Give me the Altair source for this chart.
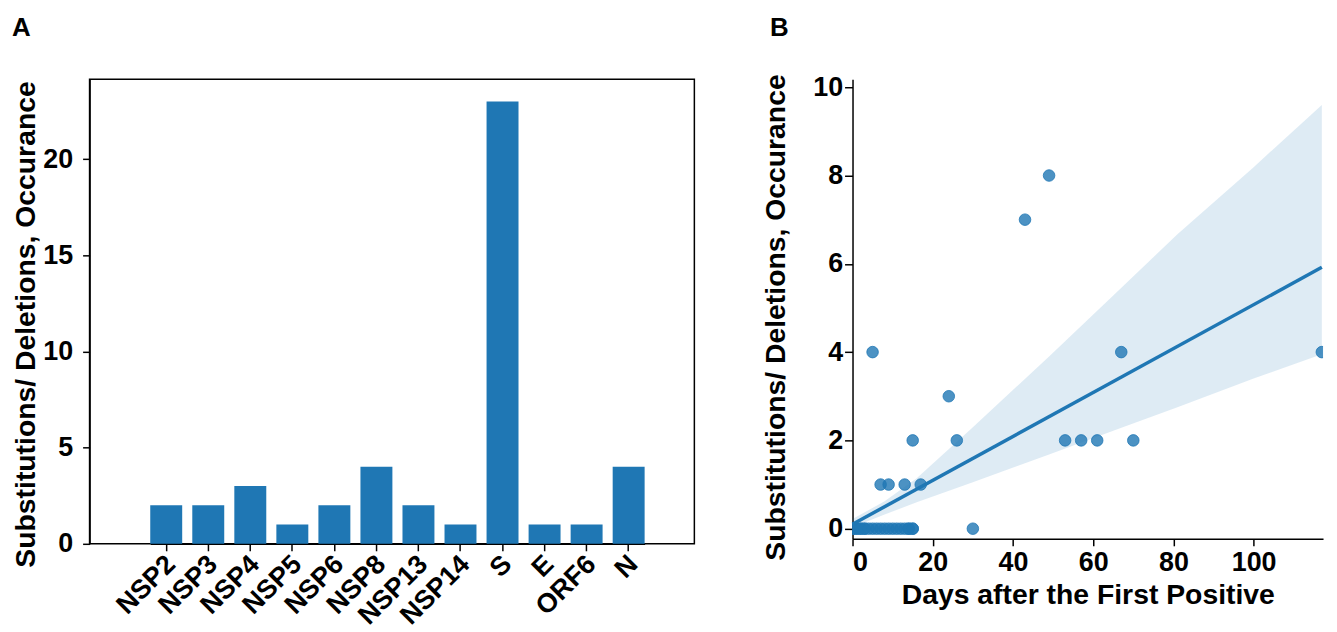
import altair as alt
import pandas as pd

# ---------------- Panel A data ----------------
genes = ["NSP2", "NSP3", "NSP4", "NSP5", "NSP6", "NSP8", "NSP13", "NSP14", "S", "E", "ORF6", "N"]
counts = [2, 2, 3, 1, 2, 4, 2, 1, 23, 1, 1, 4]

# ---------------- Panel B data ----------------
days = [0, 0, 0, 1, 1, 2, 2, 3, 3, 4, 5, 6, 7, 8, 9, 10, 11, 12, 13, 14, 14, 15, 15, 30,
        7, 9, 13, 17,
        15, 26, 53, 57, 61, 70,
        24,
        5, 67, 117,
        43,
        49]
subs = [0, 0, 0, 0, 0, 0, 0, 0, 0, 0, 0, 0, 0, 0, 0, 0, 0, 0, 0, 0, 0, 0, 0, 0,
        1, 1, 1, 1,
        2, 2, 2, 2, 2, 2,
        3,
        4, 4, 4,
        7,
        8]

fit_x = [0, 117]
fit_y = [0.10, 5.92]

ci_x = [0, 8, 16, 30, 49, 65, 81, 100, 117]
ci_lo = [0.03, 0.32, 0.60, 1.05, 1.68, 2.22, 2.75, 3.40, 3.95]
ci_hi = [0.22, 0.62, 1.14, 2.30, 3.90, 5.28, 6.67, 8.19, 9.60]

BLUE = "#1f77b4"
FONT = "Liberation Sans"
YTITLE = "Substitutions/ Deletions, Occurance"

df_a = pd.DataFrame({"gene": genes, "count": counts})
df_pts = pd.DataFrame({"days": days, "subs": subs})
df_fit = pd.DataFrame({"days": fit_x, "fit": fit_y})
df_ci = pd.DataFrame({"days": ci_x, "lo": ci_lo, "hi": ci_hi})

common_axis = dict(
    labelFont=FONT, labelFontSize=27, labelFontWeight="bold", labelColor="black",
    titleFont=FONT, titleFontSize=28.5, titleFontWeight="bold", titleColor="black",
    domainColor="black", domainWidth=1.5, tickColor="black", tickWidth=1.5,
    grid=False,
)

chart_a = alt.Chart(df_a).mark_bar(color=BLUE).encode(
    x=alt.X("gene:N", sort=genes,
            scale=alt.Scale(paddingInner=0.24, paddingOuter=0, range=[61, 558]),
            axis=alt.Axis(title=None, labelAngle=-45, labelAlign="right",
                          labelBaseline="middle", tickSize=7, labelPadding=9,
                          labelOffset=5, **common_axis)),
    y=alt.Y("count:Q", scale=alt.Scale(domain=[0, 24.15], nice=False, zero=True),
            axis=alt.Axis(title=YTITLE, values=[0, 5, 10, 15, 20], tickSize=7,
                          labelPadding=10, titlePadding=2, titleY=246,
                          **common_axis)),
).properties(
    width=608, height=467,
    title=alt.TitleParams("A", anchor="start", font=FONT, fontSize=26,
                          fontWeight="bold", color="black", offset=39),
    view=alt.ViewBackground(stroke="black", strokeWidth=1.5),
)

xb = alt.Scale(domain=[0, 117.3], nice=False, zero=False)
yb = alt.Scale(domain=[-0.23, 10.18], nice=False, zero=False)

x_axis_b = alt.Axis(title="Days after the First Positive", values=[0, 20, 40, 60, 80, 100],
                    tickSize=7, labelPadding=4, titlePadding=5, **common_axis)
y_axis_b = alt.Axis(title=YTITLE, values=[0, 2, 4, 6, 8, 10], tickSize=8,
                    labelPadding=2, titlePadding=22, titleY=239, **common_axis)

band = alt.Chart(df_ci).mark_area(color=BLUE, opacity=0.15).encode(
    x=alt.X("days:Q", scale=xb, axis=x_axis_b),
    y=alt.Y("lo:Q", scale=yb, axis=y_axis_b),
    y2="hi:Q",
)
pts = alt.Chart(df_pts).mark_circle(
    color=BLUE, size=135, fillOpacity=0.8, stroke=BLUE, strokeWidth=1,
    strokeOpacity=0.8, clip=True
).encode(
    x=alt.X("days:Q", scale=xb),
    y=alt.Y("subs:Q", scale=yb),
)
line = alt.Chart(df_fit).mark_line(color=BLUE, strokeWidth=3.5).encode(
    x=alt.X("days:Q", scale=xb),
    y=alt.Y("fit:Q", scale=yb),
)

chart_b = alt.layer(band, pts, line).properties(
    width=473, height=462,
    title=alt.TitleParams("B", anchor="start", font=FONT, fontSize=26,
                          fontWeight="bold", color="black", offset=32, dx=8),
    view=alt.ViewBackground(stroke=None),
)

chart = alt.hconcat(chart_a, chart_b, spacing=66).properties(
    padding={"left": 3, "top": 4, "right": 0, "bottom": 0},
    background="white",
)

chart.save("out.html", embed_options={"renderer": "svg", "actions": False})
